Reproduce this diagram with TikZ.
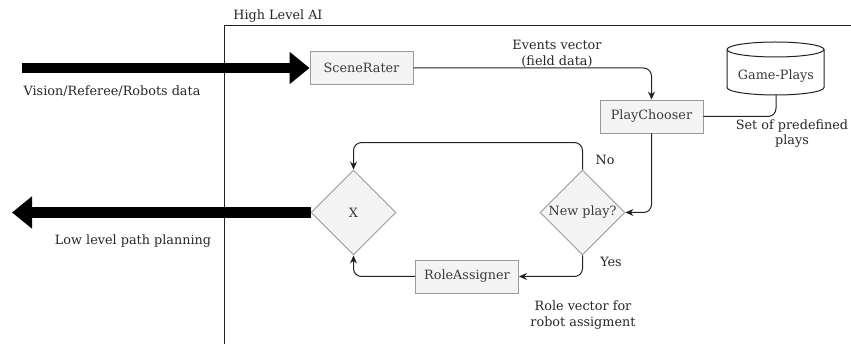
\documentclass[tikz,border=0pt]{standalone}
\usepackage{fontspec}
\setmainfont{DejaVu Serif}
\usetikzlibrary{arrows.meta,shapes.geometric}
\definecolor{boxfill}{HTML}{F4F4F4}
\definecolor{boxborder}{HTML}{9A9A9A}
\definecolor{boxtext}{HTML}{3A3A3A}
\definecolor{linecol}{HTML}{222222}
\definecolor{labtext}{HTML}{262626}
\begin{document}
\begin{tikzpicture}[x=1pt,y=-1pt,
  every node/.style={font=\fontsize{12.8}{16}\selectfont},
  box/.style={draw=boxborder, fill=boxfill, text=boxtext, line width=0.9pt, minimum width=103pt, minimum height=33pt, inner sep=0pt},
  dia/.style={draw=boxborder, fill=boxfill, text=boxtext, line width=0.9pt, diamond, minimum width=85pt, minimum height=85pt, inner sep=0pt},
  lab/.style={text=labtext, align=center, inner sep=0pt},
  conn/.style={draw=linecol, line width=1pt, rounded corners=8pt, -{Stealth[length=8pt,width=7pt]}},
  plain/.style={draw=linecol, line width=1pt, rounded corners=8pt},
  bigarrow/.style={draw=black, line width=#1, -{Triangle[length=20pt,width=31pt]}},
  frame/.style={draw=linecol, line width=1pt}
]
\useasboundingbox (0,0) rectangle (851,344);
% frame
\draw[frame] (224,344) -- (224,26) -- (851,26);
\node[lab] (title) at (278,16) {High Level AI};

% nodes
\node[box] (sr) at (361.5,68) {SceneRater};
\node[box] (pc) at (651.5,116.5) {PlayChooser};
\node[dia] (np) at (582.5,212.5) {New play?};
\node[dia] (x) at (353.5,212.5) {X};
\node[box] (ra) at (467,276.5) {RoleAssigner};

% cylinder
\filldraw[draw=linecol, fill=white, line width=1pt] (727,49.5) -- (727,87.5) arc[start angle=180, end angle=0, x radius=48.5, y radius=7.5] -- (824,49.5) arc[start angle=0, end angle=-180, x radius=48.5, y radius=7.5] -- cycle;
\draw[draw=linecol, line width=1pt] (727,49.5) arc[start angle=180, end angle=0, x radius=48.5, y radius=7.5];
\node[lab, text=boxtext] (gp) at (776,76) {Game-Plays};
\coordinate (gpb) at (776,95);

% thick arrows
\coordinate (in) at (22,68);
\coordinate (out) at (12,212.5);
\draw[bigarrow=10pt] (in) -- (sr.west);
\draw[bigarrow=11pt] (x.west) -- (out);

% connectors
\draw[conn] (sr.east) -| (pc.north);
\draw[plain] (gpb) |- (pc.east);
\draw[conn] (pc.south) |- (np.east);
\draw[conn] (np.north) -- ++(0,-27) -| (x.north);
\draw[conn] (np.south) |- (ra.east);
\draw[conn] (ra.west) -| (x.south);

% labels
\node[lab] (l1) at (112,91) {Vision/Referee/Robots data};
\node[lab] (l2) at (133,241) {Low level path planning};
\node[lab] (l3) at (557,54) {Events vector\\(field data)};
\node[lab, font=\fontsize{12.8}{15}\selectfont] (l4) at (792,133.5) {Set of predefined\\plays};
\node[lab] (l5) at (605,160) {No};
\node[lab] (l6) at (611,262) {Yes};
\node[lab] (l7) at (583,315) {Role vector for\\robot assigment};
\end{tikzpicture}
\end{document}
